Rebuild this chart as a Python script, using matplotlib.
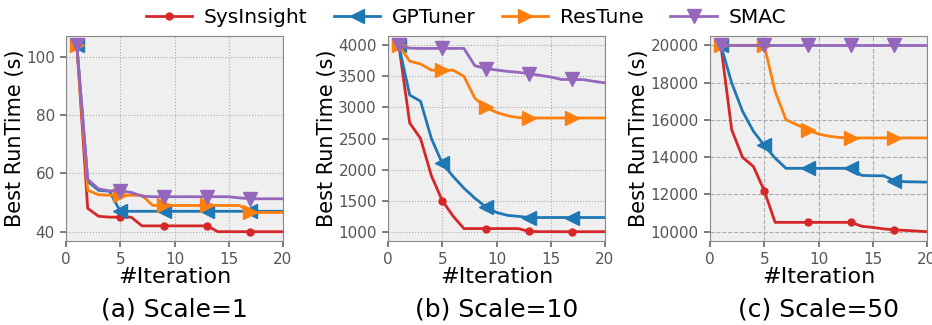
import numpy as np
import matplotlib
matplotlib.use('Agg')
import matplotlib.pyplot as plt

iters = np.arange(1, 21)

# Scale=1
sys_1 = [104, 48, 45.3, 45, 45, 45, 42, 42, 42, 42, 42, 42, 42, 40, 40, 40, 40, 40, 40, 40]
gpt_1 = [104, 57.3, 54.2, 53.9, 47, 47, 47, 47, 47, 47, 47, 47, 47, 47, 47, 47, 47, 47, 47, 47]
res_1 = [104, 54.2, 52.7, 52.5, 52.5, 52.5, 52.5, 49, 49, 49, 49, 49, 49, 49, 49, 49, 46.6, 46.6, 46.6, 46.6]
smac_1 = [104, 58, 54.7, 54, 54, 53.5, 52.2, 52, 52, 52, 52, 52, 52, 52, 52, 51.6, 51.3, 51.3, 51.3, 51.3]

# Scale=10
sys_10 = [4000, 2750, 2500, 1900, 1500, 1250, 1050, 1050, 1050, 1050, 1050, 1050, 1005, 1000, 1000, 1000, 1000, 1000, 1000, 1000]
gpt_10 = [4000, 3200, 3100, 2500, 2100, 1890, 1700, 1540, 1400, 1310, 1263, 1247, 1228, 1228, 1228, 1228, 1228, 1228, 1228, 1228]
res_10 = [4000, 3745, 3700, 3600, 3600, 3600, 3500, 3150, 3000, 2920, 2868, 2836, 2830, 2830, 2830, 2830, 2830, 2830, 2830, 2830]
smac_10 = [4000, 3955, 3950, 3950, 3950, 3950, 3950, 3673, 3625, 3603, 3580, 3566, 3544, 3517, 3490, 3450, 3450, 3448, 3420, 3395]

# Scale=50
sys_50 = [20000, 15470, 13990, 13500, 12200, 10500, 10500, 10500, 10500, 10500, 10500, 10500, 10500, 10290, 10230, 10150, 10100, 10070, 10035, 10000]
gpt_50 = [20000, 17980, 16460, 15390, 14630, 13950, 13400, 13400, 13400, 13400, 13400, 13400, 13400, 13020, 13000, 13000, 12740, 12680, 12670, 12660]
res_50 = [20000, 20000, 20000, 20000, 20000, 17530, 16010, 15740, 15470, 15240, 15120, 15050, 15030, 15030, 15030, 15030, 15030, 15030, 15030, 15030]
smac_50 = [20000] * 20

methods = ['SysInsight', 'GPTuner', 'ResTune', 'SMAC']
colors = ['#d62728', '#1f77b4', '#ff7f0e', '#9467bd']
markers = ['o', '<', '>', 'v']
msizes = [5, 10, 10, 10]

panels = [
    ([sys_1, gpt_1, res_1, smac_1], '(a) Scale=1', ':', None),
    ([sys_10, gpt_10, res_10, smac_10], '(b) Scale=10', ':', [1000, 1500, 2000, 2500, 3000, 3500, 4000]),
    ([sys_50, gpt_50, res_50, smac_50], '(c) Scale=50', '--', [10000, 12000, 14000, 16000, 18000, 20000]),
]

fig = plt.figure(figsize=(9.32, 3.25), dpi=100)
lefts = [66 / 932, 388 / 932, 710 / 932]
width = 217 / 932
bottom = 1 - 241 / 325
height = (241 - 36) / 325

lines = []
for i, (series, caption, gstyle, yticks) in enumerate(panels):
    ax = fig.add_axes([lefts[i], bottom, width, height], facecolor='#efefef')
    for j, ys in enumerate(series):
        ln, = ax.plot(iters, ys, color=colors[j], marker=markers[j], markersize=msizes[j],
                      linewidth=2, markevery=[0, 4, 8, 12, 16])
        if i == 0:
            lines.append(ln)
    ax.set_xlim(0, 20)
    ax.set_xticks([0, 5, 10, 15, 20])
    if yticks is not None:
        ax.set_yticks(yticks)
    ax.grid(True, linestyle=gstyle, color='#aaaaaa', linewidth=0.8)
    for s in ax.spines.values():
        s.set_color('#888888')
    ax.tick_params(colors='#555555', labelsize=11, length=4.5, width=1.2, pad=3.5)
    ax.tick_params(axis='both', color='#666666')
    ax.set_ylabel('Best RunTime (s)', fontsize=15, labelpad=1)
    ax.set_xlabel('#Iteration', fontsize=16, labelpad=0)
    ax.text(0.5, -0.275, caption, transform=ax.transAxes, ha='center', va='top', fontsize=18)

fig.legend(lines, methods, loc='upper center', bbox_to_anchor=(0.5, 1.03), ncol=4,
           frameon=False, fontsize=14.5, handlelength=2.3, columnspacing=1.3, handletextpad=0.6)

fig.savefig('out.png', dpi=100)
